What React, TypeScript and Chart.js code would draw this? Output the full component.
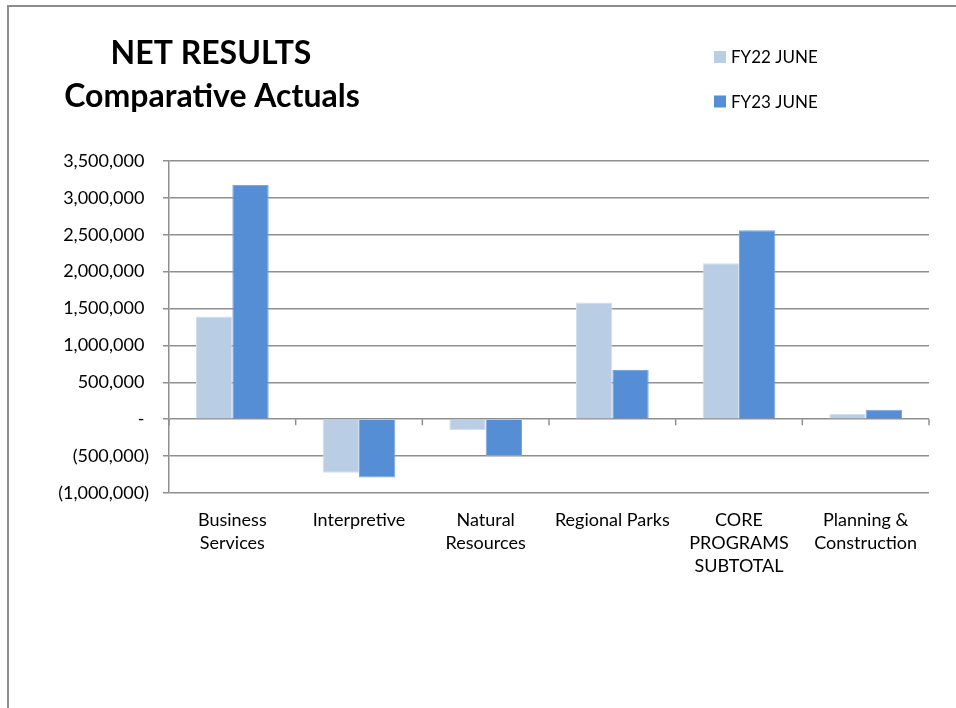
import React, { useEffect, useRef } from 'react';
import { Chart, registerables } from 'chart.js';

Chart.register(...registerables);

// ---- data ----
const categories: string[][] = [
  ['Business', 'Services'],
  ['Interpretive'],
  ['Natural', 'Resources'],
  ['Regional Parks'],
  ['CORE', 'PROGRAMS', 'SUBTOTAL'],
  ['Planning &', 'Construction'],
];
const seriesNames = ['FY22 JUNE', 'FY23 JUNE'];
const fy22June = [1392000, -726000, -146000, 1582000, 2113000, 72000];
const fy23June = [3174000, -789000, -500000, 667000, 2562000, 127000];
const yMin = -1000000;
const yMax = 3500000;
const yStep = 500000;
const titleLines = ['NET RESULTS', 'Comparative Actuals'];

// ---- styles ----
const FONT = 'Lato';
const GRID = '#8f8f8f';
const COLORS = ['#B9CDE5', '#558ED5'];
const EDGES = ['#d3e0ef', '#79a6df'];

const fmt = (v: number) => {
  if (v === 0) return '- ';
  if (v < 0) return '(' + Math.abs(v).toLocaleString('en-US') + ')';
  return v.toLocaleString('en-US') + ' ';
};

const decor = {
  id: 'decor',
  afterDraw(chart: any) {
    const { ctx, chartArea, scales } = chart;
    const xs = scales.x;
    const ys = scales.y;
    ctx.save();
    // frame
    ctx.strokeStyle = '#8c8c8c';
    ctx.lineWidth = 2;
    ctx.beginPath();
    ctx.moveTo(8, 720);
    ctx.lineTo(8, 6);
    ctx.lineTo(970, 6);
    ctx.stroke();

    // category tick marks on the zero line
    const y0 = ys.getPixelForValue(0);
    const n = categories.length;
    const step = (chartArea.right - chartArea.left) / n;
    ctx.strokeStyle = GRID;
    ctx.lineWidth = 1.5;
    ctx.beginPath();
    for (let i = 0; i <= n; i++) {
      const px = i < n ? xs.getPixelForValue(i) - step / 2 : xs.getPixelForValue(n - 1) + step / 2;
      ctx.moveTo(px, y0);
      ctx.lineTo(px, y0 + 6);
    }
    ctx.stroke();

    // title
    ctx.fillStyle = '#000';
    ctx.font = `bold 32px ${FONT}`;
    ctx.textAlign = 'center';
    ctx.textBaseline = 'alphabetic';
    ctx.fillText(titleLines[0], 211, 64);
    ctx.fillText(titleLines[1], 212, 107);

    // legend
    ctx.font = `17px ${FONT}`;
    ctx.textAlign = 'left';
    ctx.textBaseline = 'middle';
    chart.data.datasets.forEach((ds: any, i: number) => {
      const cy = 57 + i * 44.5;
      ctx.fillStyle = ds.backgroundColor;
      ctx.fillRect(714, cy - 6, 12, 12);
      ctx.fillStyle = '#000';
      ctx.fillText(ds.label, 731, cy + 1);
    });
    ctx.restore();
  },
};

export default function App() {
  const ref = useRef<HTMLCanvasElement | null>(null);

  useEffect(() => {
    document.body.style.margin = '0';
    document.body.style.overflow = 'hidden';
    const canvas = ref.current;
    if (!canvas) return;
    const chart = new Chart(canvas, {
      type: 'bar',
      data: {
        labels: categories,
        datasets: [
          {
            label: seriesNames[0],
            data: fy22June,
            backgroundColor: COLORS[0],
            borderColor: EDGES[0],
            borderWidth: 1,
            categoryPercentage: 0.574,
            barPercentage: 1,
          },
          {
            label: seriesNames[1],
            data: fy23June,
            backgroundColor: COLORS[1],
            borderColor: EDGES[1],
            borderWidth: 1,
            categoryPercentage: 0.574,
            barPercentage: 1,
          },
        ],
      },
      options: {
        responsive: false,
        animation: false,
        devicePixelRatio: 1,
        layout: { padding: { top: 161, right: 27, left: 0, bottom: 0 } },
        plugins: {
          legend: { display: false },
          title: { display: false },
          tooltip: { enabled: false },
        },
        scales: {
          x: {
            grid: { display: false, drawTicks: false },
            border: { display: false },
            ticks: {
              autoSkip: false,
              maxRotation: 0,
              minRotation: 0,
              padding: 15,
              color: '#000',
              font: { family: FONT, size: 18, lineHeight: 1.3 },
            },
            afterFit: (s: any) => {
              s.height = 215;
            },
          },
          y: {
            min: yMin,
            max: yMax,
            ticks: {
              stepSize: yStep,
              callback: (v: any) => fmt(Number(v)),
              color: '#000',
              padding: 14,
              font: { family: FONT, size: 18 },
            },
            grid: {
              color: GRID,
              lineWidth: 1.5,
              drawTicks: true,
              tickLength: 6,
              tickColor: GRID,
            },
            border: { display: true, color: GRID, width: 1.5 },
            afterFit: (s: any) => {
              s.width = 169;
            },
          },
        },
      },
      plugins: [decor],
    });
    return () => chart.destroy();
  }, []);

  return (
    <div style={{ width: 956, height: 708, background: '#fff' }}>
      <canvas ref={ref} width={956} height={708} style={{ display: 'block' }} />
    </div>
  );
}
